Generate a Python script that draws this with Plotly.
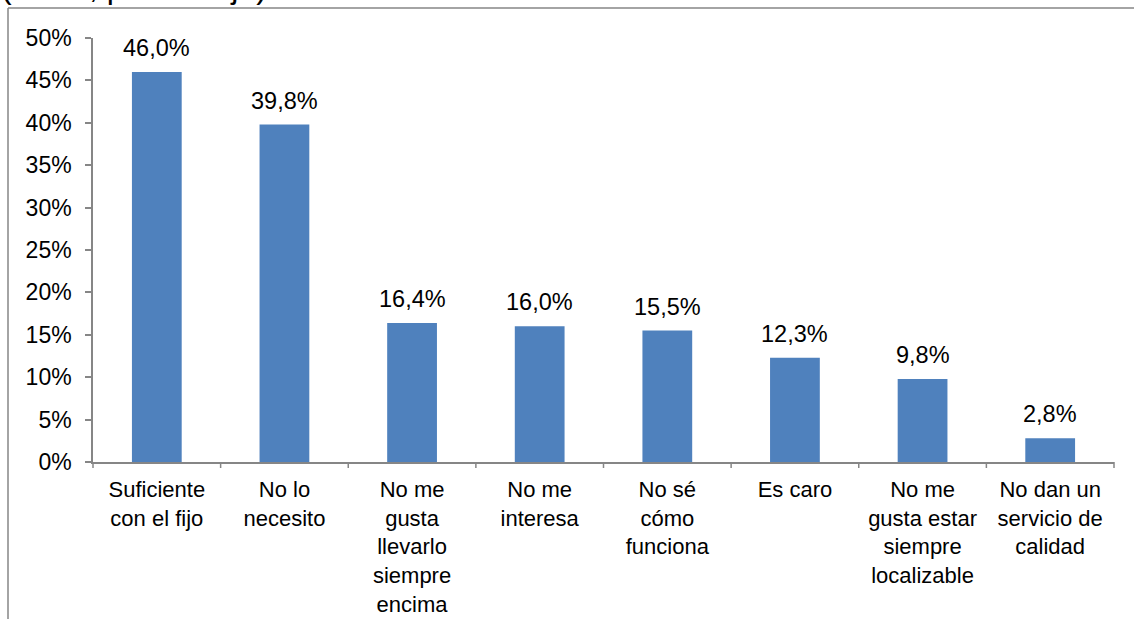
import plotly.graph_objects as go

# Reasons for not having a mobile phone (percentage of respondents)
categories = [
    "Suficiente<br>con el fijo",
    "No lo<br>necesito",
    "No me<br>gusta<br>llevarlo<br>siempre<br>encima",
    "No me<br>interesa",
    "No sé<br>cómo<br>funciona",
    "Es caro",
    "No me<br>gusta estar<br>siempre<br>localizable",
    "No dan un<br>servicio de<br>calidad",
]
values = [46.0, 39.8, 16.4, 16.0, 15.5, 12.3, 9.8, 2.8]
y_ticks = [0, 5, 10, 15, 20, 25, 30, 35, 40, 45, 50]
y_tick_labels = [f"{t}%" for t in y_ticks]
subtitle = "(N=71, porcentaje)"

W, H = 1134, 619
ML, MR, MT, MB = 93, 20, 38, 157
PW, PH = W - ML - MR, H - MT - MB

FONT = "Liberation Sans, Arial, sans-serif"
AXIS = "#868686"
BAR = "#4F81BD"


def px_to_paper_x(px):
    return (px - ML) / PW


def px_to_paper_y(py):
    return (H - MB - py) / PH


fig = go.Figure()
fig.add_trace(go.Bar(
    x=categories,
    y=values,
    marker=dict(color=BAR, line=dict(width=0)),
    hoverinfo="skip",
))

# value labels above each bar
for c, v in zip(categories, values):
    fig.add_annotation(
        x=c, y=v, xref="x", yref="y",
        text=f"{v:.1f}".replace(".", ",") + "%",
        showarrow=False, yanchor="bottom", yshift=9,
        font=dict(family=FONT, size=23.5, color="#000000"),
    )

# cropped subtitle at the top-left corner
fig.add_annotation(
    x=px_to_paper_x(-1), y=px_to_paper_y(7),
    xref="paper", yref="paper", xanchor="left", yanchor="bottom",
    text=subtitle, showarrow=False,
    font=dict(family=FONT, size=32, color="#000000"),
)

# outer chart frame (top and left edges)
fig.add_shape(type="line", xref="paper", yref="paper",
              x0=px_to_paper_x(8), x1=px_to_paper_x(W + 5),
              y0=px_to_paper_y(8), y1=px_to_paper_y(8),
              line=dict(color=AXIS, width=1.5))
fig.add_shape(type="line", xref="paper", yref="paper",
              x0=px_to_paper_x(8), x1=px_to_paper_x(8),
              y0=px_to_paper_y(8), y1=px_to_paper_y(H + 5),
              line=dict(color=AXIS, width=1.5))

fig.update_layout(
    width=W, height=H,
    margin=dict(l=ML, r=MR, t=MT, b=MB, pad=0, autoexpand=False),
    paper_bgcolor="white", plot_bgcolor="white",
    showlegend=False,
    bargap=0.61,
    font=dict(family=FONT, size=22, color="#000000"),
    xaxis=dict(
        automargin=False,
        showline=True, linecolor=AXIS, linewidth=1.5,
        ticks="", showgrid=False, tickangle=0,
        ticklabelstandoff=7,
        tickfont=dict(family=FONT, size=22, color="#000000"),
    ),
    yaxis=dict(
        automargin=False,
        range=[0, 50], tickmode="array", tickvals=y_ticks, ticktext=y_tick_labels,
        showline=True, linecolor=AXIS, linewidth=1.5,
        ticks="outside", ticklen=6, tickcolor=AXIS, tickwidth=1.5,
        ticklabelstandoff=9,
        showgrid=False, zeroline=False,
        tickfont=dict(family=FONT, size=23, color="#000000"),
    ),
)

# category separator ticks below the x axis
for i in range(len(categories) + 1):
    xp = px_to_paper_x(ML + i * PW / len(categories))
    fig.add_shape(type="line", xref="paper", yref="paper",
                  x0=xp, x1=xp, y0=0, y1=px_to_paper_y(H - MB + 6),
                  line=dict(color=AXIS, width=1.5))

fig.write_html("out.html")
